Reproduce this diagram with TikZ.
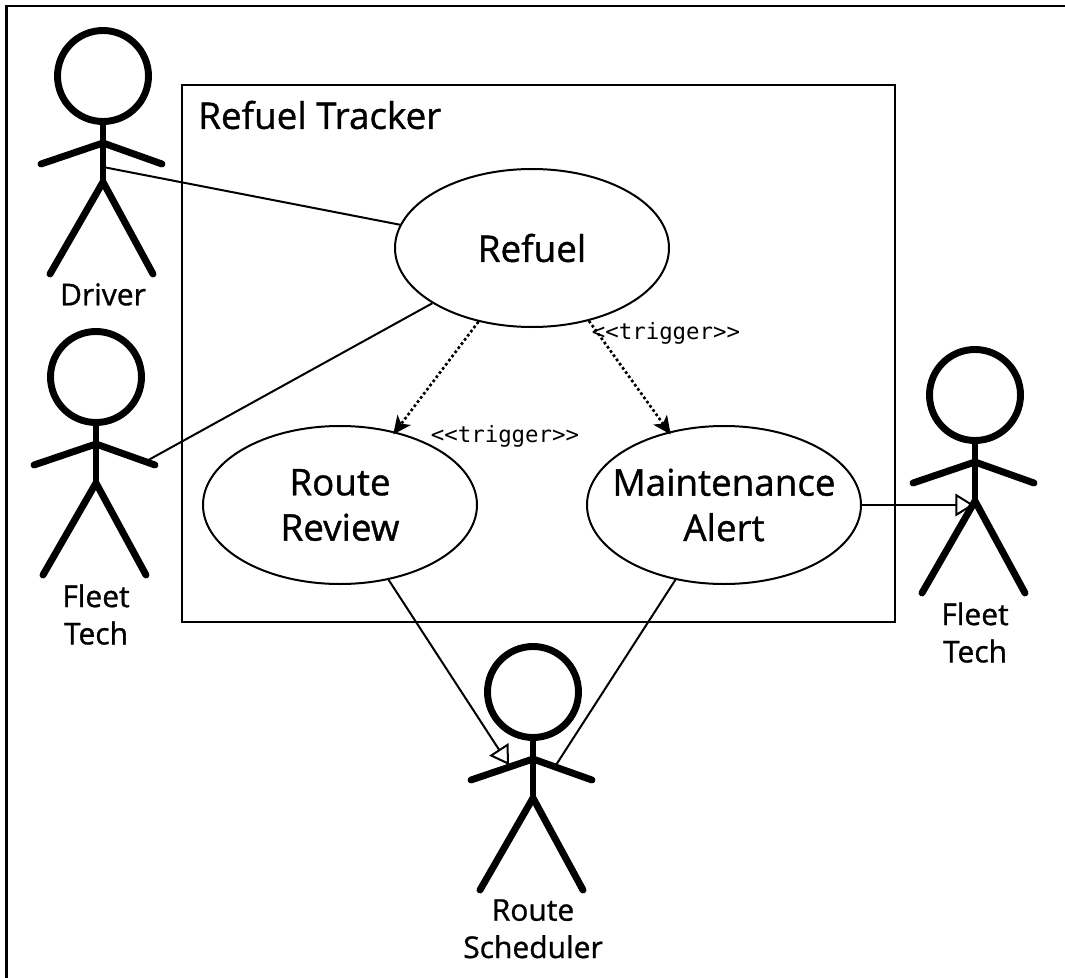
\documentclass[tikz,border=0pt]{standalone}
\usepackage{fontspec}
\setmainfont{Open Sans}[FakeBold=1]
\newfontfamily\monolabel{DejaVu Sans Mono}
\usetikzlibrary{arrows.meta,shapes.geometric}

\begin{document}
\begin{tikzpicture}[x=0.75pt,y=-0.75pt]
  \tikzset{usecase/.style={ellipse,draw,line width=1.5pt,inner xsep=-30pt,inner ysep=0pt,minimum width=205.5pt,minimum height=118.5pt,align=center,font=\fontsize{27.6}{34}\selectfont},
           link/.style={line width=1.5pt},
           trigger/.style={line width=2pt,dash pattern=on 2pt off 1.9pt,shorten >=-2.5pt,-{Stealth[length=13.5pt,width=12.5pt,inset=3.5pt]}},
           generalize/.style={line width=1.5pt,-{Triangle[fill=white,length=14pt,width=17pt]}},
           triggerlabel/.style={inner sep=0pt,font=\monolabel\fontsize{16.8}{20}\selectfont},
           limb/.style={line width=5.2pt,line cap=round,line join=round},
           actorlabel/.style={inner sep=0pt,anchor=north,align=center,font=\fontsize{22.5}{28}\selectfont}}
  \useasboundingbox (0,0) rectangle (1065,978);
  \draw[line width=2.2pt] (6.5,978) -- (6.5,6) -- (1065,6);
  \node [draw,line width=1.9pt,inner sep=0pt,minimum width=534.75pt,minimum height=402.75pt] (tracker) at (538.5,353.5) {};
  \node [inner sep=0pt,anchor=west,font=\fontsize{27.6}{34}\selectfont] (trackertitle) at (198,115) {Refuel Tracker};

  \node [usecase] (refuel) at (532,248) {Refuel};
  \node [usecase] (review) at (340,505) {Route\\Review};
  \node [usecase] (alert) at (724,505) {Maintenance\\Alert};
  \node [triggerlabel] (triggerright) at (666,333) {<{}<trigger>{}>};
  \node [triggerlabel] (triggerleft) at (505,436) {<{}<trigger>{}>};

  % free ends on the actors
  \coordinate (driverend) at (103,167);
  \coordinate (techleftend) at (143,463);
  \coordinate (techrightend) at (974,505);
  \coordinate (schedulerleft) at (509,765);
  \coordinate (schedulerright) at (556,765);

  \draw [link] (driverend) -- (refuel.170);
  \draw [link] (techleftend) -- (refuel.209);
  \draw [trigger] (refuel.234) -- (review.53);
  \draw [trigger] (refuel.308) -- (alert.127);
  \draw [generalize] (review.303) -- (schedulerleft);
  \draw [link] (alert.237) -- (schedulerright);
  \draw [generalize] (alert.east) -- (techrightend);

  \foreach \name/\hx/\hy/\txt in {driver/103/76/Driver,techleft/96/377/{Fleet\\Tech},techright/975/395/{Fleet\\Tech},scheduler/533/692/{Route\\Scheduler}} {
    \node [circle,draw,line width=5.2pt,inner sep=0pt,minimum size=68.25pt] (\name) at (\hx,\hy) {};
    \coordinate (\name hip) at (\hx,\hy+106);
    \draw [limb] (\name.south) -- (\name hip);
    \draw [limb] (\hx-62,\hy+88) -- (\hx,\hy+67) -- (\hx+59,\hy+88);
    \draw [limb] (\hx-53,\hy+198) -- (\name hip) -- (\hx+50,\hy+198);
    \node [actorlabel] (\name label) at (\hx,\hy+207) {\txt};
  }
\end{tikzpicture}
\end{document}
